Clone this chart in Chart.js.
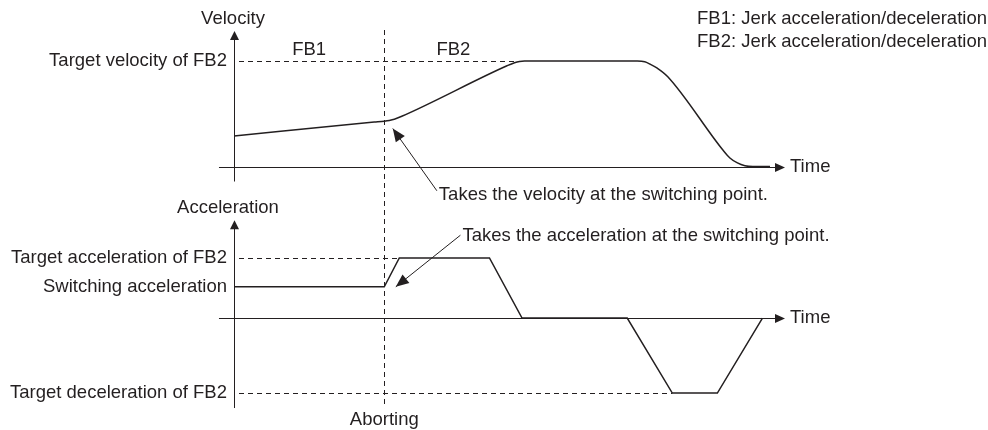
<!DOCTYPE html>
<html>
<head>
<meta charset="utf-8">
<script src="https://cdn.jsdelivr.net/npm/chart.js@4/dist/chart.umd.min.js"></script>
<style>
  html, body { margin: 0; padding: 0; background: #fff; }
  #chart { display: block; }
</style>
</head>
<body>
<canvas id="chart" width="988" height="430"></canvas>
<script>
// velocity profile (arbitrary units, target velocity = 100)
const timeV = [0, 28, 30, 31, 32, 33.5, 54.5, 56, 57, 58, 80.5, 82, 83, 84.5, 86.6, 97.6, 99, 100.5, 102, 103.6, 107];
const velocity = [29, 42.1, 43, 43.7, 44.8, 47.6, 95.5, 98.4, 99.6, 100, 100, 99.3, 97.2, 93.2, 85.1, 15.6, 8.1, 3.4, 0.8, 0, 0];

// acceleration profile (target acceleration = 100)
const timeA = [0, 30, 33, 51, 57.5, 78.5, 87.5, 96.5, 105.5];
const acceleration = [52, 52, 100, 100, 0, 0, -125, -125, 0];

const velocityTicks = [100];
const velocityTickLabels = ["Target velocity of FB2"];
const accelTicks = [100, 52, -125];
const accelTickLabels = [
  "Target acceleration of FB2",
  "Switching acceleration",
  "Target deceleration of FB2",
];

const abortTime = 30;
const legendLines = [
  "FB1: Jerk acceleration/deceleration",
  "FB2: Jerk acceleration/deceleration",
];

const INK = "#231f20";
const FONT = "18.5px 'Liberation Sans', Arial, sans-serif";

function arrowHead(ctx, x0, y0, x1, y1, len, half) {
  const a = Math.atan2(y1 - y0, x1 - x0);
  ctx.beginPath();
  ctx.moveTo(x1, y1);
  ctx.lineTo(x1 - len * Math.cos(a) + half * Math.sin(a), y1 - len * Math.sin(a) - half * Math.cos(a));
  ctx.lineTo(x1 - len * Math.cos(a) - half * Math.sin(a), y1 - len * Math.sin(a) + half * Math.cos(a));
  ctx.closePath();
  ctx.fill();
}

// snap axis-aligned 1px lines onto the pixel grid so they stay crisp
const snap = (v) => Math.round(v) + 0.5;

function line(ctx, x0, y0, x1, y1, dash) {
  if (x0 === x1) { x0 = x1 = snap(x0); }
  if (y0 === y1) { y0 = y1 = snap(y0); }
  ctx.save();
  ctx.setLineDash(dash || []);
  ctx.beginPath();
  ctx.moveTo(x0, y0);
  ctx.lineTo(x1, y1);
  ctx.stroke();
  ctx.restore();
}

const diagramPlugin = {
  id: "diagram",
  beforeDatasetsDraw(chart) {
    const { ctx, scales } = chart;
    const x = scales.x, yV = scales.yV, yA = scales.yA;
    const x0 = x.getPixelForValue(0);
    ctx.save();
    ctx.strokeStyle = INK;
    ctx.fillStyle = INK;
    ctx.lineWidth = 1;

    // velocity axes
    const v0 = yV.getPixelForValue(0);
    const vTop = chart.chartArea.top + 1;
    line(ctx, x0, vTop + 6, x0, v0 + 15);
    arrowHead(ctx, snap(x0), vTop + 20, snap(x0), vTop, 9, 4.5);
    const xEnd = x.getPixelForValue(110);
    line(ctx, x.getPixelForValue(-3), v0, xEnd - 6, v0);
    arrowHead(ctx, xEnd - 20, snap(v0), xEnd, snap(v0), 10, 4.5);

    // acceleration axes
    const a0 = yA.getPixelForValue(0);
    const aTop = yA.getPixelForValue(163);
    const aBot = yA.getPixelForValue(-150);
    line(ctx, x0, aTop + 6, x0, aBot);
    arrowHead(ctx, snap(x0), aTop + 20, snap(x0), aTop, 9, 4.5);
    line(ctx, x.getPixelForValue(-3), a0, xEnd - 6, a0);
    arrowHead(ctx, xEnd - 20, snap(a0), xEnd, snap(a0), 10, 4.5);

    // dashed guides
    const dash = [5, 4];
    const tv = yV.getPixelForValue(velocityTicks[0]);
    line(ctx, x0 + 5, tv, x.getPixelForValue(57.5), tv, dash);
    const ta = yA.getPixelForValue(accelTicks[0]);
    line(ctx, x0 + 5, ta, x.getPixelForValue(33), ta, dash);
    const td = yA.getPixelForValue(accelTicks[2]);
    line(ctx, x0 + 5, td, x.getPixelForValue(87.5), td, dash);
    const xa = x.getPixelForValue(abortTime);
    line(ctx, xa, chart.chartArea.top, xa, aBot, dash);
    ctx.restore();
  },
  afterDatasetsDraw(chart) {
    const { ctx, scales } = chart;
    const x = scales.x, yV = scales.yV, yA = scales.yA;
    const x0 = x.getPixelForValue(0);
    const xEnd = x.getPixelForValue(110);
    ctx.save();
    ctx.fillStyle = INK;
    ctx.strokeStyle = INK;
    ctx.font = FONT;
    ctx.textBaseline = "middle";

    // axis titles
    ctx.textAlign = "center";
    ctx.fillText("Velocity", x0 - 1, chart.chartArea.top - 11);
    ctx.fillText("Acceleration", x0 - 6, yA.getPixelForValue(163) - 12);
    ctx.fillText("FB1", x.getPixelForValue(15), yV.getPixelForValue(111));
    ctx.fillText("FB2", x.getPixelForValue(43.8), yV.getPixelForValue(111));
    ctx.fillText("Aborting", x.getPixelForValue(abortTime), yA.getPixelForValue(-170));

    // y tick labels
    ctx.textAlign = "right";
    velocityTicks.forEach((v, i) => ctx.fillText(velocityTickLabels[i], x0 - 7, yV.getPixelForValue(v)));
    accelTicks.forEach((v, i) => ctx.fillText(accelTickLabels[i], x0 - 7, yA.getPixelForValue(v)));

    // time labels
    ctx.textAlign = "left";
    ctx.fillText("Time", xEnd + 5, yV.getPixelForValue(0));
    ctx.fillText("Time", xEnd + 5, yA.getPixelForValue(0));

    // legend text
    legendLines.forEach((t, i) => ctx.fillText(t, 697, 19 + i * 23));

    // annotations
    ctx.lineWidth = 1;
    let tx = x.getPixelForValue(40.5), ty = yV.getPixelForValue(-23);
    let hx = x.getPixelForValue(31.7), hy = yV.getPixelForValue(36);
    line(ctx, tx, ty, hx, hy);
    arrowHead(ctx, tx, ty, hx, hy, 13, 5.5);
    ctx.fillText("Takes the velocity at the switching point.", tx + 2, ty + 4);

    tx = x.getPixelForValue(45.2); ty = yA.getPixelForValue(138);
    hx = x.getPixelForValue(32.3); hy = yA.getPixelForValue(52);
    line(ctx, tx, ty, hx, hy);
    arrowHead(ctx, tx, ty, hx, hy, 13, 5.5);
    ctx.fillText("Takes the acceleration at the switching point.", tx + 2, ty + 1);
    ctx.restore();
  },
};

new Chart(document.getElementById("chart"), {
  type: "line",
  data: {
    datasets: [
      {
        label: "Velocity",
        data: timeV.map((t, i) => ({ x: t, y: velocity[i] })),
        yAxisID: "yV",
        borderColor: INK,
        borderWidth: 1.5,
        pointRadius: 0,
        cubicInterpolationMode: "monotone",
        fill: false,
      },
      {
        label: "Acceleration",
        data: timeA.map((t, i) => ({ x: t, y: acceleration[i] })),
        yAxisID: "yA",
        borderColor: INK,
        borderWidth: 1.5,
        pointRadius: 0,
        tension: 0,
        fill: false,
      },
    ],
  },
  options: {
    responsive: false,
    animation: false,
    events: [],
    layout: { padding: { left: 234, right: 203, top: 30, bottom: 20 } },
    plugins: { legend: { display: false }, tooltip: { enabled: false } },
    scales: {
      x: { type: "linear", min: 0, max: 110, display: false },
      yV: { type: "linear", min: -230.8, max: 129.4, display: false },
      yA: { type: "linear", min: -153.3, max: 480, display: false },
    },
  },
  plugins: [diagramPlugin],
});
</script>
</body>
</html>
